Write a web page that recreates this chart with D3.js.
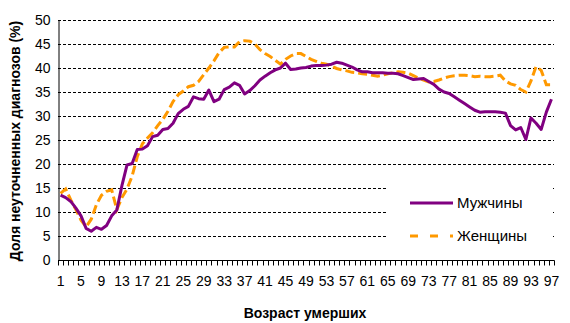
<!DOCTYPE html>
<html>
<head>
<meta charset="utf-8">
<script src="https://d3js.org/d3.v7.min.js"></script>
<style>
  body { margin: 0; background: #fff; }
  svg { font-family: "Liberation Sans", Arial, sans-serif; }
</style>
</head>
<body>
<div id="chart"></div>
<script>
// возраст 1..97
var ages = d3.range(1, 98);

var men = [13.5, 13, 12.2, 10.8, 9.2, 6.6, 6.0, 6.8, 6.4, 7.2,
  9.2, 10.4, 15.5, 19.8, 20.1, 23, 23.1, 23.8, 25.7, 26,
  27.2, 27.4, 28.5, 30.5, 31.4, 32, 34, 33.6, 33.5, 35.4,
  33, 33.5, 35.5, 36, 36.9, 36.4, 34.6, 35.3, 36.3, 37.5,
  38.3, 39, 39.6, 40, 41, 39.7, 39.8, 40, 40.1, 40.4,
  40.5, 40.5, 40.6, 40.8, 41.2, 41, 40.6, 40.2, 39.6, 39.2,
  39.2, 39, 39, 39, 38.9, 38.9, 38.8, 38.4, 38, 37.6,
  37.7, 37.8, 37.2, 36.6, 35.6, 35, 34.7, 34, 33.3, 32.6,
  31.9, 31.2, 30.8, 30.9, 30.9, 30.9, 30.8, 30.6, 28, 27.1,
  27.6, 25.1, 29.6, 28.5, 27.2, 30.8, 33.5];

var women = [13.9, 14.8, 12.5, 10.5, 8.3, 6.9, 8.5, 11.5, 13.5, 14.3,
  14.6, 10.5, 13, 14.8, 17.5, 21.5, 24.2, 25.4, 26.5, 28,
  29.3, 31, 33, 34.4, 35.2, 36.1, 36.4, 37.2, 38.6, 40,
  41.5, 43.2, 44.3, 44.4, 44.4, 45.5, 45.7, 45.6, 45, 43.8,
  43, 42.4, 41.6, 40.8, 41.8, 42.5, 43, 43, 42.4, 41.8,
  41.4, 41, 40.8, 40.4, 39.9, 39.6, 39.4, 39.1, 39, 38.8,
  38.7, 38.5, 38.3, 38.5, 38.8, 39, 39.2, 39.1, 38.9, 38.4,
  37.9, 37.5, 37.1, 37.2, 37.5, 37.9, 38.2, 38.4, 38.5, 38.5,
  38.4, 38.2, 38.3, 38.2, 38.2, 38.3, 38.5, 37.3, 36.7, 36.4,
  35.5, 35, 37.3, 40.3, 39.5, 36.5, 36.5];

var yTicks = [0, 5, 10, 15, 20, 25, 30, 35, 40, 45, 50];
var seriesNames = ["Мужчины", "Женщины"];

var width = 570, height = 323;
var pLeft = 58, pRight = 554, pTop = 20, pBottom = 260;

var svg = d3.select("#chart").append("svg")
    .attr("width", width)
    .attr("height", height);

var x = d3.scaleBand()
    .domain(ages)
    .range([pLeft, pRight]);

var y = d3.scaleLinear()
    .domain([0, 50])
    .range([pBottom, pTop]);

// сетка
svg.append("g")
  .selectAll("line")
  .data(yTicks.filter(function(d) { return d > 0; }))
  .enter()
  .append("line")
  .attr("x1", pLeft)
  .attr("x2", pRight)
  .attr("y1", function(d) { return y(d) + 0.5; })
  .attr("y2", function(d) { return y(d) + 0.5; })
  .attr("stroke", "#000")
  .attr("stroke-width", 1)
  .attr("stroke-dasharray", "3,2");

// ось Y
var yAxis = svg.append("g")
    .attr("transform", "translate(" + (pLeft + 0.5) + ",0)")
    .call(d3.axisLeft(y).tickValues(yTicks).tickSize(0).tickPadding(8));
yAxis.select(".domain").attr("stroke", "#000");
yAxis.selectAll("text").attr("font-size", "14px").attr("fill", "#000")
    .style("font-family", "Liberation Sans, Arial, sans-serif");

// ось X
var xAxisG = svg.append("g")
    .attr("transform", "translate(0," + (pBottom + 0.5) + ")");
xAxisG.append("line")
    .attr("x1", pLeft).attr("x2", pRight + 0.5)
    .attr("stroke", "#000");
xAxisG.selectAll("line.tick")
  .data(d3.range(0, ages.length + 1))
  .enter()
  .append("line")
  .attr("class", "tick")
  .attr("x1", function(i) { return Math.round(pLeft + i * x.step()) + 0.5; })
  .attr("x2", function(i) { return Math.round(pLeft + i * x.step()) + 0.5; })
  .attr("y1", 0)
  .attr("y2", 5)
  .attr("stroke", "#000");
xAxisG.selectAll("text")
  .data(ages.filter(function(d) { return (d - 1) % 4 === 0; }))
  .enter()
  .append("text")
  .attr("x", function(d) { return x(d) + x.bandwidth() / 2; })
  .attr("y", 25)
  .attr("text-anchor", "middle")
  .attr("font-size", "14px")
  .attr("fill", "#000")
  .text(function(d) { return d; });

// линии
var line = d3.line()
    .x(function(d, i) { return x(ages[i]) + x.bandwidth() / 2; })
    .y(function(d) { return y(d); });

svg.append("path")
    .datum(women)
    .attr("d", line)
    .attr("fill", "none")
    .attr("stroke", "#FF9900")
    .attr("stroke-width", 3)
    .attr("stroke-dasharray", "9,4");

svg.append("path")
    .datum(men)
    .attr("d", line)
    .attr("fill", "none")
    .attr("stroke", "#800080")
    .attr("stroke-width", 3)
    .attr("stroke-linejoin", "round");

// легенда (белый фон поверх сетки)
var legend = svg.append("g");
legend.append("rect")
    .attr("x", 386).attr("y", 176)
    .attr("width", 165).attr("height", 76)
    .attr("fill", "#fff");
legend.append("line")
    .attr("x1", 410).attr("x2", 453).attr("y1", 203).attr("y2", 203)
    .attr("stroke", "#800080").attr("stroke-width", 3);
legend.append("line")
    .attr("x1", 410).attr("x2", 453).attr("y1", 236).attr("y2", 236)
    .attr("stroke", "#FF9900").attr("stroke-width", 3)
    .attr("stroke-dasharray", "8,12");
legend.selectAll("text")
  .data(seriesNames)
  .enter()
  .append("text")
  .attr("x", 457)
  .attr("y", function(d, i) { return 208 + i * 33; })
  .attr("font-size", "15px")
  .attr("fill", "#000")
  .text(function(d) { return d; });

// подписи осей
svg.append("text")
    .attr("x", 305)
    .attr("y", 318)
    .attr("text-anchor", "middle")
    .attr("font-size", "14px")
    .attr("font-weight", "bold")
    .text("Возраст умерших");

svg.append("text")
    .attr("transform", "translate(20,141) rotate(-90)")
    .attr("text-anchor", "middle")
    .attr("font-size", "14px")
    .attr("font-weight", "bold")
    .text("Доля неуточненных диагнозов (%)");
</script>
</body>
</html>
